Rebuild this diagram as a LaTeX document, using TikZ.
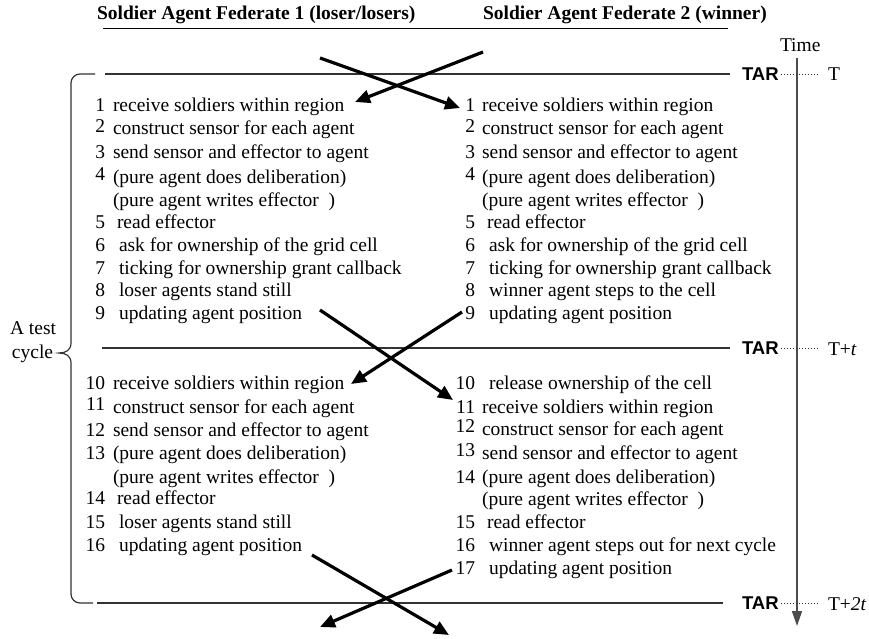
\documentclass[tikz,border=0pt]{standalone}
\usepackage{fontspec}
\setmainfont{Liberation Serif}
\newfontfamily\tarfont{Liberation Sans}
\usetikzlibrary{arrows.meta}
\begin{document}
\begin{tikzpicture}[x=1pt,y=-1pt,
  every node/.style={inner sep=0pt, outer sep=0pt, font=\fontsize{19.5}{23}\selectfont},
  num/.style={anchor=base east},
  txt/.style={anchor=base west},
  hdr/.style={anchor=base west, font=\fontsize{19.5}{23}\selectfont\bfseries},
  tarlbl/.style={anchor=base west, font=\fontsize{18.5}{22}\selectfont\tarfont\bfseries},
  tlab/.style={anchor=base west},
  sepline/.style={draw=black!80, line width=1.2pt},
  dotline/.style={draw=black!80, line width=0.8pt, dash pattern=on 1.5pt off 1.5pt},
  xarrow/.style={line width=3.2pt, -{Triangle[length=15pt,width=13pt]}},
  axis/.style={draw=black!70, line width=1.6pt, -{Triangle[length=15pt,width=10pt]}}
]
\useasboundingbox (0,0) rectangle (869,639);

% headers
\node[hdr] (h1) at (97,20) {Soldier Agent Federate 1 (loser/losers)};
\node[hdr] (h2) at (483,20) {Soldier Agent Federate 2 (winner)};
\coordinate (ul1) at (103,29);
\coordinate (ul2) at (728,29);
\draw[line width=1pt] (ul1) -- (ul2);

% time axis
\node[anchor=base west] (time) at (780,52) {Time};
\coordinate (ax1) at (797,58);
\coordinate (ax2) at (797,626);
\draw[axis] (ax1) -- (ax2);

% TAR lines
\coordinate (l1a) at (105,74);  \coordinate (l1b) at (730,74);
\coordinate (l2a) at (102,348); \coordinate (l2b) at (730,348);
\coordinate (l3a) at (97,603);  \coordinate (l3b) at (723,603);
\draw[sepline] (l1a) -- (l1b);
\draw[sepline] (l2a) -- (l2b);
\draw[sepline] (l3a) -- (l3b);

\node[tarlbl] (tar1) at (742,80.5) {TAR};
\node[tarlbl] (tar2) at (742,354.5) {TAR};
\node[tarlbl] (tar3) at (742,609.5) {TAR};
\node[tlab] (t1) at (828,81) {T};
\node[tlab] (t2) at (828,355) {T+\textit{t}};
\node[tlab] (t3) at (828,610) {T+\textit{2t}};
\draw[dotline] (tar1.east |- l1b) ++(2,0) -- (818,74);
\draw[dotline] (tar2.east |- l2b) ++(2,0) -- (818,348);
\draw[dotline] (tar3.east |- l3b) ++(2,0) -- (818,603);

% brace
\draw[sepline] (95,74) -- (80,74) arc[start angle=270,end angle=180,radius=9]
  -- (71,343) .. controls (71,350) and (66,353) .. (59,353)
  .. controls (66,353) and (71,356) .. (71,363)
  -- (71,594) arc[start angle=180,end angle=90,radius=9] -- (93,603);
\node[anchor=base west] (cyc1) at (10,334) {A test};
\node[anchor=base west] (cyc2) at (12,358) {cycle};

% left column, first half
\node[num] (ln1) at (105,112) {1};   \node[txt] (lt1) at (113,112) {receive soldiers within region};
\node[num] (ln2) at (105,133) {2};   \node[txt] (lt2) at (113,135) {construct sensor for each agent};
\node[num] (ln3) at (105,159) {3};   \node[txt] (lt3) at (113,159) {send sensor and effector to agent};
\node[num] (ln4) at (105,180) {4};   \node[txt] (lt4) at (113,183) {(pure agent does deliberation)};
                                     \node[txt] (lt4b) at (113,206) {(pure agent writes effector~~)};
\node[num] (ln5) at (105,228) {5};   \node[txt] (lt5) at (117,228) {read effector};
\node[num] (ln6) at (105,251) {6};   \node[txt] (lt6) at (119,251) {ask for ownership of the grid cell};
\node[num] (ln7) at (105,274) {7};   \node[txt] (lt7) at (119,274) {ticking for ownership grant callback};
\node[num] (ln8) at (105,296) {8};   \node[txt] (lt8) at (119,296) {loser agents stand still};
\node[num] (ln9) at (105,319) {9};   \node[txt] (lt9) at (119,319) {updating agent position};

% right column, first half
\node[num] (rn1) at (475,112) {1};   \node[txt] (rt1) at (482,112) {receive soldiers within region};
\node[num] (rn2) at (475,133) {2};   \node[txt] (rt2) at (482,135) {construct sensor for each agent};
\node[num] (rn3) at (475,159) {3};   \node[txt] (rt3) at (482,159) {send sensor and effector to agent};
\node[num] (rn4) at (475,180) {4};   \node[txt] (rt4) at (482,183) {(pure agent does deliberation)};
                                     \node[txt] (rt4b) at (482,206) {(pure agent writes effector~~)};
\node[num] (rn5) at (475,228) {5};   \node[txt] (rt5) at (487,228) {read effector};
\node[num] (rn6) at (475,251) {6};   \node[txt] (rt6) at (489,251) {ask for ownership of the grid cell};
\node[num] (rn7) at (475,274) {7};   \node[txt] (rt7) at (489,274) {ticking for ownership grant callback};
\node[num] (rn8) at (475,296) {8};   \node[txt] (rt8) at (489,296) {winner agent steps to the cell};
\node[num] (rn9) at (475,319) {9};   \node[txt] (rt9) at (489,319) {updating agent position};

% left column, second half
\node[num] (ln10) at (105,389) {10}; \node[txt] (lt10) at (113,389) {receive soldiers within region};
\node[num] (ln11) at (105,410) {11}; \node[txt] (lt11) at (113,413) {construct sensor for each agent};
\node[num] (ln12) at (105,436) {12}; \node[txt] (lt12) at (113,436) {send sensor and effector to agent};
\node[num] (ln13) at (105,459) {13}; \node[txt] (lt13) at (113,459) {(pure agent does deliberation)};
                                     \node[txt] (lt13b) at (113,483) {(pure agent writes effector~~)};
\node[num] (ln14) at (105,504) {14}; \node[txt] (lt14) at (117,504) {read effector};
\node[num] (ln15) at (105,528) {15}; \node[txt] (lt15) at (119,528) {loser agents stand still};
\node[num] (ln16) at (105,551) {16}; \node[txt] (lt16) at (119,551) {updating agent position};

% right column, second half
\node[num] (rn10) at (475,389) {10}; \node[txt] (rt10) at (489,389) {release ownership of the cell};
\node[num] (rn11) at (475,413) {11}; \node[txt] (rt11) at (482,413) {receive soldiers within region};
\node[num] (rn12) at (475,432) {12}; \node[txt] (rt12) at (482,435) {construct sensor for each agent};
\node[num] (rn13) at (475,456) {13}; \node[txt] (rt13) at (482,459) {send sensor and effector to agent};
\node[num] (rn14) at (475,483) {14}; \node[txt] (rt14) at (482,483) {(pure agent does deliberation)};
                                     \node[txt] (rt14b) at (482,505) {(pure agent writes effector~~)};
\node[num] (rn15) at (475,528) {15}; \node[txt] (rt15) at (487,528) {read effector};
\node[num] (rn16) at (475,551) {16}; \node[txt] (rt16) at (489,551) {winner agent steps out for next cycle};
\node[num] (rn17) at (475,574) {17}; \node[txt] (rt17) at (489,574) {updating agent position};

% crossing arrows
\coordinate (a1s) at (320,58);  \coordinate (a1e) at (460,108);
\coordinate (a2s) at (483,52);  \coordinate (a2e) at (355,102);
\coordinate (a3s) at (320,310); \coordinate (a3e) at (453,400);
\coordinate (a4s) at (462,312); \coordinate (a4e) at (351,384);
\coordinate (a5s) at (312,555); \coordinate (a5e) at (449,635);
\coordinate (a6s) at (452,570); \coordinate (a6e) at (320,627);
\draw[xarrow] (a1s) -- (a1e);
\draw[xarrow] (a2s) -- (a2e);
\draw[xarrow] (a3s) -- (a3e);
\draw[xarrow] (a4s) -- (a4e);
\draw[xarrow] (a5s) -- (a5e);
\draw[xarrow] (a6s) -- (a6e);
\end{tikzpicture}
\end{document}
